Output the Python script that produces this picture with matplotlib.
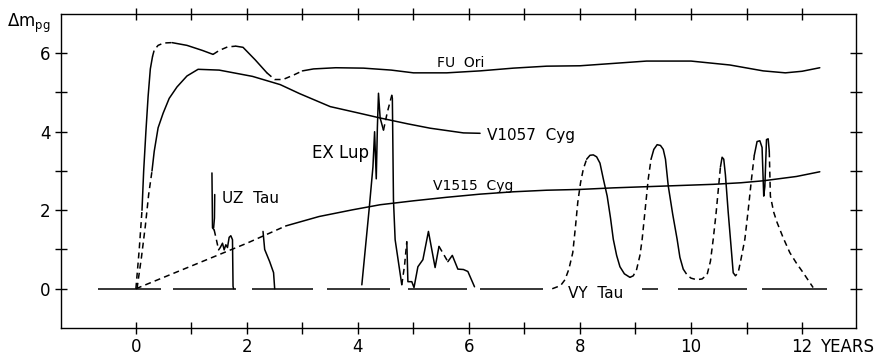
import matplotlib
matplotlib.use('Agg')
import matplotlib.pyplot as plt
import numpy as np

# ==========================================
# 1. Light curves (years, delta m_pg)
# ==========================================
fu_ori_x = [0.0, 0.06, 0.11, 0.14, 0.18, 0.22, 0.26, 0.3, 0.33, 0.4, 0.5, 0.65, 0.92, 1.2, 1.39,
            1.5, 1.65, 1.8, 1.93, 2.15, 2.36, 2.5, 2.65, 2.85, 3.0, 3.2, 3.6, 4.1, 4.6,
            5.0, 5.6, 6.2, 6.8, 7.4, 8.0, 8.6, 9.2, 10.0, 10.7, 11.3, 11.7, 12.0, 12.32]
fu_ori_y = [0.0, 1.0, 2.0, 3.0, 4.0, 4.9, 5.6, 5.92, 6.08, 6.2, 6.26, 6.27, 6.2, 6.07, 5.97,
            6.07, 6.16, 6.18, 6.15, 5.83, 5.5, 5.33, 5.33, 5.45, 5.55, 5.6, 5.63, 5.62, 5.57,
            5.5, 5.5, 5.55, 5.62, 5.67, 5.68, 5.74, 5.8, 5.8, 5.7, 5.55, 5.5, 5.54, 5.63]

v1057_x = [0.02, 0.1, 0.17, 0.23, 0.29, 0.33, 0.4, 0.49, 0.6, 0.74, 0.92, 1.12, 1.5, 2.1,
           2.6, 2.95, 3.5, 4.0, 4.4, 4.9, 5.3, 5.9, 6.2]
v1057_y = [0.0, 0.8, 1.6, 2.4, 3.0, 3.5, 4.1, 4.47, 4.85, 5.14, 5.42, 5.59, 5.57, 5.41,
           5.2, 4.97, 4.64, 4.48, 4.35, 4.2, 4.09, 3.97, 3.96]

v1515_x = [0.0, 1.0, 2.0, 2.7, 3.3, 3.9, 4.4, 5.0, 5.6, 6.2, 6.8, 7.4, 8.0, 8.6, 9.2,
           9.8, 10.4, 10.9, 11.3, 11.9, 12.32]
v1515_y = [0.0, 0.58, 1.16, 1.6, 1.84, 2.01, 2.14, 2.24, 2.33, 2.41, 2.47, 2.51, 2.53, 2.57,
           2.6, 2.63, 2.66, 2.7, 2.75, 2.86, 2.98]

uz_tau_x = [1.37, 1.38, 1.41, 1.45, 1.49, 1.52, 1.56, 1.59, 1.62, 1.65, 1.68, 1.71, 1.74, 1.75, 1.76]
uz_tau_y = [2.95, 1.55, 1.5, 1.25, 0.99, 1.05, 1.16, 0.99, 1.12, 1.05, 1.31, 1.35, 1.25, 0.06, 0.0]
uz_tau_arrow_x = [1.42, 1.415, 1.4]
uz_tau_arrow_y = [2.4, 1.8, 1.55]
uz_tau_2_x = [2.29, 2.32, 2.41, 2.48, 2.5]
uz_tau_2_y = [1.46, 1.0, 0.69, 0.41, 0.0]

ex_lup_x = [4.07, 4.2, 4.27, 4.3, 4.33, 4.35, 4.37, 4.4, 4.46, 4.53, 4.61, 4.62, 4.64, 4.67,
            4.79, 4.84, 4.88, 4.9, 4.97, 5.01, 5.08, 5.17, 5.27, 5.39, 5.46, 5.62, 5.7,
            5.8, 5.9, 5.98, 6.1]
ex_lup_y = [0.1, 2.0, 3.1, 4.0, 2.8, 4.1, 4.98, 4.35, 4.04, 4.5, 4.93, 4.85, 2.26, 1.25,
            0.1, 0.6, 1.2, 0.18, 0.18, 0.03, 0.56, 0.74, 1.46, 0.54, 1.08, 0.69, 0.85,
            0.5, 0.49, 0.44, 0.05]

vy_tau_x = [7.5, 7.65, 7.73, 7.8, 7.87, 7.92, 7.96, 8.01, 8.06, 8.12,
            8.18, 8.24, 8.3, 8.36, 8.42, 8.49, 8.55, 8.6, 8.66, 8.72,
            8.8, 8.9, 8.96, 9.02, 9.08, 9.12, 9.18, 9.23, 9.28, 9.33,
            9.39, 9.45, 9.5, 9.54, 9.59, 9.67, 9.75, 9.8, 9.86, 9.93,
            10.0, 10.1, 10.2, 10.29, 10.35, 10.4, 10.45, 10.49, 10.53, 10.56,
            10.59, 10.62, 10.67, 10.72, 10.76, 10.8, 10.85, 10.9, 10.97, 11.03,
            11.09, 11.14, 11.19, 11.24, 11.28, 11.31, 11.33, 11.36, 11.39, 11.41,
            11.43, 11.49, 11.55, 11.66, 11.78, 11.9, 12.02, 12.2]
vy_tau_y = [0.0, 0.08, 0.23, 0.5, 0.92, 1.6, 2.2, 2.7, 3.05, 3.3,
            3.4, 3.41, 3.36, 3.2, 2.8, 2.36, 1.8, 1.26, 0.85, 0.56,
            0.38, 0.29, 0.33, 0.49, 0.85, 1.26, 2.1, 2.8, 3.3, 3.55,
            3.67, 3.65, 3.55, 3.3, 2.62, 1.9, 1.26, 0.8, 0.5, 0.35,
            0.27, 0.23, 0.25, 0.36, 0.7, 1.26, 1.9, 2.5, 3.1, 3.35,
            3.3, 2.9, 1.95, 1.1, 0.41, 0.33, 0.41, 0.75, 1.26, 2.0,
            2.8, 3.4, 3.75, 3.77, 3.6, 2.36, 2.6, 3.8, 3.82, 3.5,
            2.36, 1.95, 1.69, 1.3, 0.92, 0.65, 0.41, 0.03]

# quiescent (pre/post outburst) level
baseline_start = [-0.68, 0.67, 2.09, 3.44, 4.9, 6.2, 9.12, 9.77, 11.28]
baseline_end = [0.46, 1.8, 3.19, 4.58, 5.96, 7.33, 9.4, 11.0, 12.45]

x_tick_labels = ['0', '', '2', '', '4', '', '6', '', '8', '', '10', '', '12']
y_tick_labels = ['0', '', '2', '', '4', '', '6']

# ==========================================
# 2. Plot
# ==========================================
plt.rcParams['font.family'] = ['DejaVu Sans']
plt.rcParams['lines.scale_dashes'] = False

LW = 1.1
DASH = (0, (4.3, 3))


def draw(ax, x, y, dashed_spans=()):
    """Solid curve, with dashed pieces for the given index spans."""
    x = np.asarray(x)
    y = np.asarray(y)
    cuts = [0]
    for a, b in dashed_spans:
        cuts += [a, b]
    cuts.append(len(x) - 1)
    for k in range(len(cuts) - 1):
        a, b = cuts[k], cuts[k + 1]
        if b <= a:
            continue
        ls = DASH if k % 2 == 1 else '-'
        ax.plot(x[a:b + 1], y[a:b + 1], color='black', lw=LW, linestyle=ls,
                solid_capstyle='round', solid_joinstyle='round')


fig = plt.figure(figsize=(8.86, 3.58), dpi=100)
ax = fig.add_axes([0.0688, 0.0838, 0.8972, 0.8772])

ax.hlines(np.zeros(len(baseline_start)), baseline_start, baseline_end, color='black', lw=LW)

draw(ax, fu_ori_x, fu_ori_y, [(0, 2), (7, 11), (14, 17), (20, 24)])
draw(ax, v1057_x, v1057_y, [(0, 4)])
draw(ax, v1515_x, v1515_y, [(0, 3)])
draw(ax, uz_tau_x, uz_tau_y, [(2, 4)])
draw(ax, uz_tau_arrow_x, uz_tau_arrow_y)
draw(ax, uz_tau_2_x, uz_tau_2_y)
draw(ax, ex_lup_x, ex_lup_y, [(8, 10), (14, 16), (24, 25)])
draw(ax, vy_tau_x, vy_tau_y, [(0, 9), (21, 28), (38, 48), (54, 61), (69, 77)])

# star names
ax.text(5.42, 5.64, 'FU  Ori', fontsize=10, va='baseline')
ax.text(6.32, 3.79, 'V1057  Cyg', fontsize=11, va='baseline')
ax.text(3.17, 3.33, 'EX Lup', fontsize=12, va='baseline')
ax.text(1.55, 2.19, 'UZ  Tau', fontsize=11, va='baseline')
ax.text(5.35, 2.52, 'V1515  Cyg', fontsize=10, va='baseline')
ax.text(7.78, -0.23, 'VY  Tau', fontsize=11, va='baseline')

ax.set_xlim(-1.35, 12.97)
ax.set_ylim(-1, 7)
ax.set_xticks(range(13))
ax.set_xticklabels(x_tick_labels)
ax.set_yticks(range(7))
ax.set_yticklabels(y_tick_labels)
ax.tick_params(direction='inout', length=9, width=1.0, top=True, right=True,
               labelsize=12, pad=3)
for s in ax.spines.values():
    s.set_linewidth(1.0)

ax.annotate('YEARS', xy=(12.32, 0), xycoords=('data', 'axes fraction'),
            xytext=(0, -7.5), textcoords='offset points', ha='left', va='top',
            fontsize=12, annotation_clip=False)
fig.text(0.008, 0.925, r'$\Delta\mathrm{m}_{\mathrm{pg}}$', fontsize=12, va='baseline')

fig.savefig('out.png', dpi=100)
